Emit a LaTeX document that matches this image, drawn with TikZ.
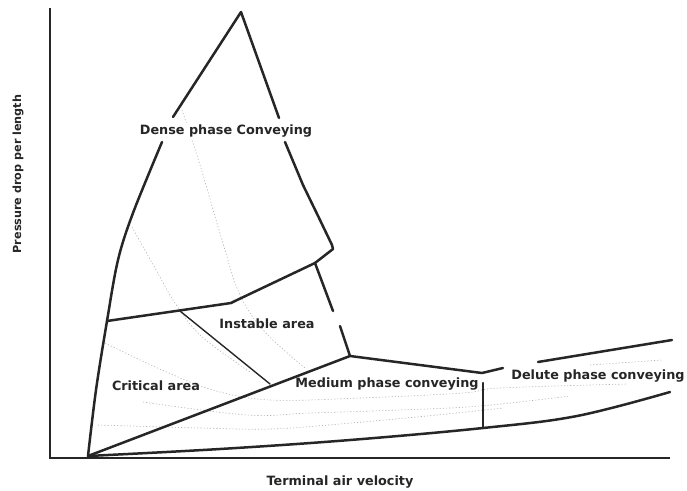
\documentclass[tikz,border=0pt]{standalone}
\usepackage{fontspec}
\setmainfont{DejaVu Sans}
\definecolor{ink}{HTML}{262626}
\begin{document}
\begin{tikzpicture}[x=1pt,y=-1pt,
  bound/.style={draw=ink, line width=2.5pt, line join=round, line cap=round},
  axisline/.style={draw=ink, line width=1.8pt},
  thinline/.style={draw=ink, line width=1.4pt, line cap=round},
  dotline/.style={draw=gray!60, line width=0.6pt, dash pattern=on 1.2pt off 2pt},
  lbl/.style={font=\bfseries\fontsize{12.8}{14}\selectfont, text=ink, inner sep=1.5pt},
  axlbl/.style={font=\bfseries\fontsize{12.8}{14}\selectfont, text=ink, inner sep=1pt}]
\useasboundingbox (0,0) rectangle (687,490);
% key points
\coordinate (O) at (88,456);
\coordinate (peak) at (241,12);
\coordinate (Ltop) at (173,117);
\coordinate (Lbot) at (162,142);
\coordinate (Rtop) at (279,118);
\coordinate (Rbot) at (285,142);
\coordinate (R1) at (303,185);
\coordinate (R2) at (320,220);
\coordinate (R3) at (332,245);
\coordinate (R4) at (333,249);
\coordinate (K) at (315,263);
\coordinate (I1) at (235,301);
\coordinate (I2) at (231,303);
\coordinate (Lj) at (107,321);
\coordinate (Q1) at (333,311);
\coordinate (Q2) at (340,326);
\coordinate (M) at (350,356);
\coordinate (E) at (482,373);
\coordinate (E2) at (503,368);
\coordinate (V1) at (483,383);
\coordinate (V2) at (483,428);
\coordinate (U1) at (538,362);
\coordinate (U2) at (672,340);
\coordinate (Dg1) at (180,311);
\coordinate (Dg2) at (270,384);
\coordinate (Ytop) at (50,8);
\coordinate (Org) at (50,458);
\coordinate (Xend) at (670,458);

% dotted characteristic curves
\draw[dotline] plot[smooth, tension=0.6] coordinates {(182,110) (200,165) (222,240) (240,295) (265,332) (305,368)};
\draw[dotline] plot[smooth, tension=0.6] coordinates {(132,227) (155,268) (175,303) (200,335) (237,363) (250,372)};
\draw[dotline] plot[smooth, tension=0.6] coordinates {(105,343) (162,370) (213,390) (270,400) (360,398) (463,393) (500,388) (627,384)};
\draw[dotline] plot[smooth, tension=0.6] coordinates {(143,402) (247,415) (310,413) (400,410) (480,406) (570,396)};
\draw[dotline] plot[smooth, tension=0.6] coordinates {(98,425) (200,428) (270,429) (340,424) (437,415) (503,408)};
\draw[dotline] (590,365) -- (662,360);

% axes
\draw[axisline] (Ytop) -- (Org) -- (Xend);

% dense phase boundary
\draw[bound] (Ltop) -- (peak) -- (Rtop);
\draw[bound] (Rbot) -- (R1) .. controls (312,203) .. (R2) -- (R3) -- (R4) -- (K);
\draw[bound] plot[smooth, tension=0.55] coordinates {(Lbot) (133,213) (118,260) (Lj) (96,390) (O)};
% instable area boundaries
\draw[bound] (K) -- (I1) -- (I2) -- (Lj);
\draw[bound] (K) -- (Q1);
\draw[bound] (Q2) -- (M);
\draw[thinline] (Dg1) -- (Dg2);
% medium phase
\draw[bound] (O) -- (M) -- (E) -- (E2);
\draw[bound] (V1) -- (V2);
% dilute phase
\draw[bound] (U1) -- (U2);
\draw[bound] plot[smooth, tension=0.6] coordinates {(O) (220,449) (350,440) (V2) (577,416) (670,392)};

% labels
\node[lbl, fill=white] (dense) at (226,131) {Dense phase Conveying};
\node[lbl] (instable) at (267,324) {Instable area};
\node[lbl] (critical) at (156,386) {Critical area};
\node[lbl] (medium) at (387,384) {Medium phase conveying};
\node[lbl] (delute) at (598,376) {Delute phase conveying};
\node[axlbl] (xlab) at (340,482) {Terminal air velocity};
\node[axlbl, font=\bfseries\fontsize{11.2}{13}\selectfont, rotate=90] (ylab) at (18,174) {Pressure drop per length};
\end{tikzpicture}
\end{document}
